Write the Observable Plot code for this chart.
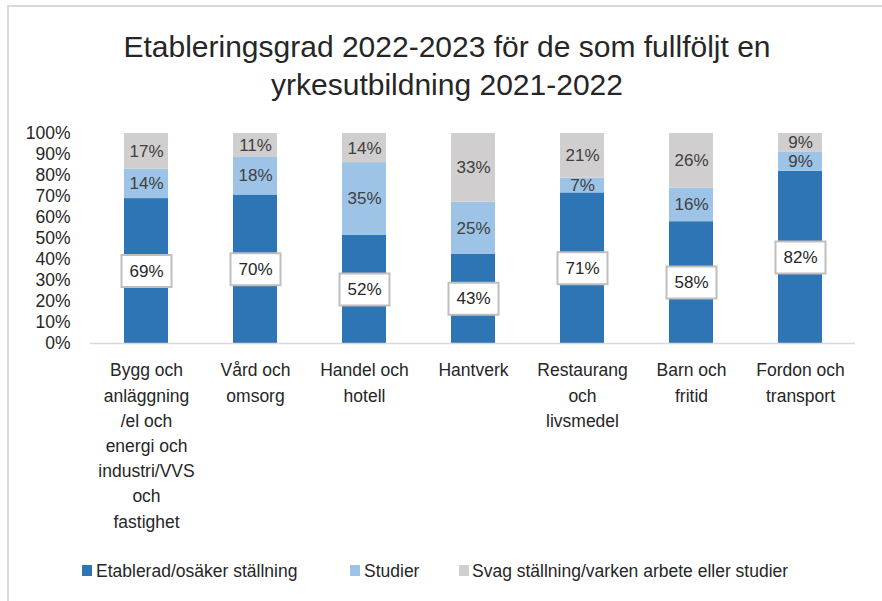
<!DOCTYPE html>
<html>
<head>
<meta charset="utf-8">
<script src="https://cdn.jsdelivr.net/npm/d3@7"></script>
<script src="https://cdn.jsdelivr.net/npm/@observablehq/plot@0.6"></script>
<style>
  html, body { margin: 0; padding: 0; background: #fff; }
  #wrap { position: relative; width: 882px; height: 601px; overflow: hidden; font-family: "Liberation Sans", Arial, sans-serif; color: #262626; }
  #frame { position: absolute; left: 7px; top: 5px; right: -5px; bottom: -5px; border-left: 2px solid #d9d9d9; border-top: 2px solid #d9d9d9; }
  #title { position: absolute; left: 0; width: 894px; top: 28px; text-align: center; font-size: 30px; line-height: 38px; color: #262626; }
  #chart { position: absolute; left: 0; top: 110px; }
  .leg { position: absolute; font-size: 17.5px; line-height: 20px; color: #262626; white-space: nowrap; }
  .sw { position: absolute; width: 10px; height: 11px; }
</style>
</head>
<body>
<div id="wrap">
  <div id="frame"></div>
  <div id="title">Etableringsgrad 2022-2023 för de som fullföljt en<br>yrkesutbildning 2021-2022</div>
  <div id="chart"></div>
  <div id="legend"></div>
</div>
<script>
const categories = [
  "Bygg och anläggning/el och energi och industri/VVS och fastighet",
  "Vård och omsorg",
  "Handel och hotell",
  "Hantverk",
  "Restaurang och livsmedel",
  "Barn och fritid",
  "Fordon och transport"
];
const tickLabels = [
  "Bygg och\nanläggning\n/el och\nenergi och\nindustri/VVS\noch\nfastighet",
  "Vård och\nomsorg",
  "Handel och\nhotell",
  "Hantverk",
  "Restaurang\noch\nlivsmedel",
  "Barn och\nfritid",
  "Fordon och\ntransport"
];
const series = [
  "Etablerad/osäker ställning",
  "Studier",
  "Svag ställning/varken arbete eller studier"
];
const etablerad = [69, 70, 52, 43, 71, 58, 82];
const studier   = [14, 18, 35, 25, 7, 16, 9];
const svag      = [17, 11, 14, 33, 21, 26, 9];
const yTicks = [0, 0.1, 0.2, 0.3, 0.4, 0.5, 0.6, 0.7, 0.8, 0.9, 1.0];
const colors = ["#2e75b6", "#9dc3e6", "#d0cece"];

// Build normalized (100% stacked) rows
const seriesValues = [etablerad, studier, svag];
const rows = [];
categories.forEach((cat, i) => {
  const total = etablerad[i] + studier[i] + svag[i];
  let acc = 0;
  series.forEach((s, k) => {
    const v = seriesValues[k][i];
    const y1 = acc / total;
    acc += v;
    const y2 = acc / total;
    rows.push({cat, series: s, k, value: v, y1, y2, mid: (y1 + y2) / 2});
  });
});
const estRows = rows.filter(d => d.k === 0);
const otherRows = rows.filter(d => d.k !== 0);

// Label box symbol (white rounded-free rectangle around the value)
const boxSymbol = {
  draw(context) {
    context.moveTo(-25, -16);
    context.lineTo(25, -16);
    context.lineTo(25, 16);
    context.lineTo(-25, 16);
    context.closePath();
  }
};

const chart = Plot.plot({
  width: 882,
  height: 430,
  marginLeft: 90,
  marginRight: 27,
  marginTop: 23,
  marginBottom: 197,
  style: {fontFamily: "'Liberation Sans', Arial, sans-serif", color: "#262626", background: "transparent"},
  x: {domain: categories, paddingInner: 0.6, paddingOuter: 0.3, label: null},
  y: {domain: [0, 1], label: null},
  color: {domain: series, range: colors},
  marks: [
    Plot.barY(rows, {x: "cat", y1: "y1", y2: "y2", fill: "series"}),
    Plot.ruleY([0], {stroke: "#d9d9d9", strokeWidth: 1.5}),
    Plot.text(otherRows, {x: "cat", y: "mid", text: d => d.value + "%", fill: "#404040", fontSize: 17}),
    Plot.dot(estRows, {x: "cat", y: "mid", symbol: boxSymbol, r: 10, fill: "white", stroke: "#bfbfbf", strokeWidth: 2}),
    Plot.text(estRows, {x: "cat", y: "mid", text: d => d.value + "%", fill: "#262626", fontSize: 17}),
    Plot.axisY({ticks: yTicks, tickFormat: d => Math.round(d * 100) + "%", tickSize: 0, tickPadding: 20, fontSize: 17.5, fill: "#262626"}),
    Plot.axisX({tickSize: 0, tickPadding: 15, fontSize: 17.5, lineHeight: 1.44, fill: "#262626",
      tickFormat: d => tickLabels[categories.indexOf(d)]})
  ]
});
document.getElementById("chart").appendChild(chart);

// Legend
const legend = document.getElementById("legend");
const swX = [82, 350, 459];
const txX = [96, 364, 472];
series.forEach((s, k) => {
  const sw = document.createElement("div");
  sw.className = "sw";
  sw.style.left = swX[k] + "px";
  sw.style.top = "565px";
  sw.style.background = colors[k];
  legend.appendChild(sw);
  const t = document.createElement("div");
  t.className = "leg";
  t.style.left = txX[k] + "px";
  t.style.top = "561px";
  t.textContent = s;
  legend.appendChild(t);
});
</script>
</body>
</html>
